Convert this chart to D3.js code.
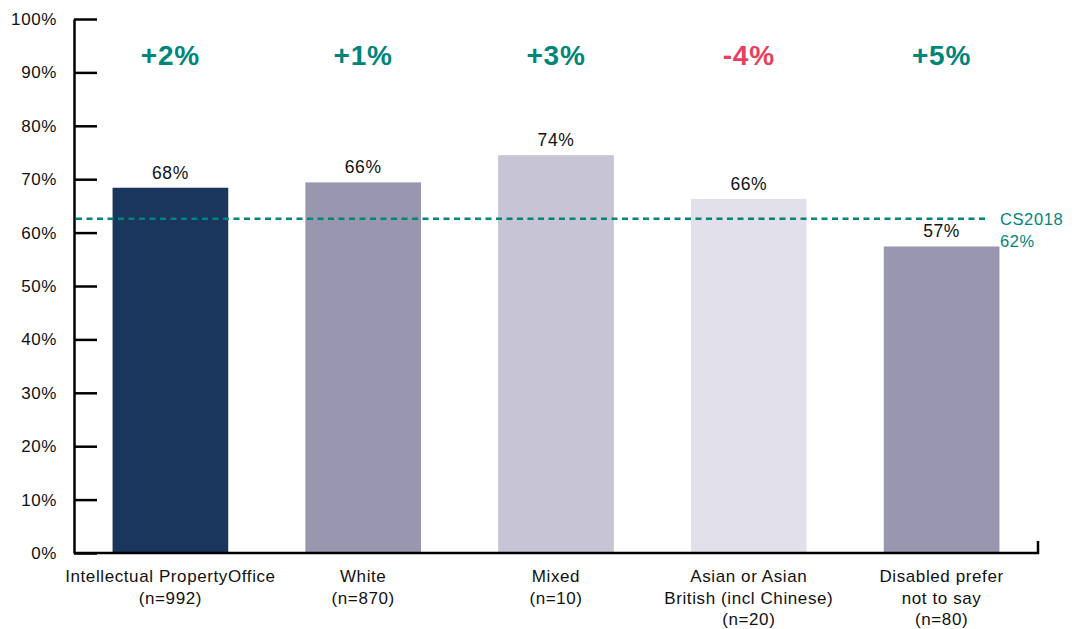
<!DOCTYPE html>
<html><head><meta charset="utf-8">
<script src="https://cdn.jsdelivr.net/npm/d3@7"></script>
<style>body{margin:0;background:#fff}svg{display:block}text{font-family:"Liberation Sans",Arial,Helvetica,sans-serif}</style>
</head><body><svg id="c" width="1076" height="629"></svg>
<script>
const categories = [
  ["Intellectual PropertyOffice", "(n=992)"],
  ["White", "(n=870)"],
  ["Mixed", "(n=10)"],
  ["Asian or Asian", "British (incl Chinese)", "(n=20)"],
  ["Disabled prefer", "not to say", "(n=80)"]
];
const values = [68.4, 69.4, 74.5, 66.3, 57.4];
const valueLabels = ["68%", "66%", "74%", "66%", "57%"];
const deltas = ["+2%", "+1%", "+3%", "-4%", "+5%"];
const benchmark = 62.6;
const benchmarkLabel = ["CS2018", "62%"];
const yTicks = [0,10,20,30,40,50,60,70,80,90,100];
const barColors = ["#1b365d", "#9996b0", "#c7c4d6", "#e1dfea", "#9996b0"];
const teal = "#00857a", red = "#e6405e";

const svg = d3.select("#c");
const x = d3.scaleBand().domain(d3.range(values.length)).range([74, 1038]).paddingInner(0.4).paddingOuter(0.2);
const y = d3.scaleLinear().domain([0, 100]).range([553, 19]);

// bars
svg.selectAll("rect.bar").data(values).join("rect")
  .attr("x", (d,i) => x(i)).attr("width", x.bandwidth())
  .attr("y", d => y(d)).attr("height", d => y(0) - y(d))
  .attr("fill", (d,i) => barColors[i]);

// benchmark line
svg.append("line").attr("x1", 76).attr("x2", 986)
  .attr("y1", y(benchmark)).attr("y2", y(benchmark))
  .attr("stroke", teal).attr("stroke-width", 2.5).attr("stroke-dasharray", "6,4.5");
svg.append("text").attr("x", 1000).attr("y", y(benchmark) + 6)
  .attr("fill", teal).attr("font-size", 16.5).attr("letter-spacing", "0.6px").text(benchmarkLabel[0]);
svg.append("text").attr("x", 1000).attr("y", y(benchmark) + 28)
  .attr("fill", teal).attr("font-size", 16.5).attr("letter-spacing", "0.6px").text(benchmarkLabel[1]);

// y axis
const yAxis = d3.axisLeft(y).tickValues(yTicks).tickFormat(d => d + "%").tickSize(-23).tickSizeOuter(0).tickPadding(40);
const gy = svg.append("g").attr("transform", "translate(74,0)").call(yAxis);
gy.select(".domain").attr("stroke", "#000").attr("stroke-width", 2.5);
gy.selectAll(".tick line").attr("stroke", "#000").attr("stroke-width", 2.5);
gy.selectAll(".tick text").attr("font-size", 17).attr("fill", "#111").attr("letter-spacing", "0.6px")
  .attr("font-family", '"Liberation Sans",Arial,sans-serif').attr("x", -17).attr("text-anchor", "end");

// x axis
svg.append("path").attr("d", `M74,${y(0)}H1038V${y(0)-12}`).attr("fill", "none")
  .attr("stroke", "#000").attr("stroke-width", 2.5);

// category labels
categories.forEach((lines, i) => {
  const t = svg.append("text").attr("text-anchor", "middle").attr("font-size", 17).attr("letter-spacing", "0.6px").attr("fill", "#111");
  lines.forEach((ln, j) => {
    t.append("tspan").attr("x", x(i) + x.bandwidth()/2).attr("y", 582 + j * 21.5).text(ln);
  });
});

// value labels
svg.selectAll("text.val").data(values).join("text").attr("class", "val")
  .attr("x", (d,i) => x(i) + x.bandwidth()/2).attr("y", d => y(d) - 9)
  .attr("text-anchor", "middle").attr("font-size", 17.5).attr("letter-spacing", "0.6px").attr("fill", "#111")
  .text((d,i) => valueLabels[i]);

// deltas
svg.selectAll("text.delta").data(deltas).join("text").attr("class", "delta")
  .attr("x", (d,i) => x(i) + x.bandwidth()/2).attr("y", 65)
  .attr("text-anchor", "middle").attr("font-size", 28).attr("font-weight", "bold").attr("letter-spacing", "0.8px")
  .attr("fill", d => d.startsWith("-") ? red : teal).text(d => d);
</script></body></html>
